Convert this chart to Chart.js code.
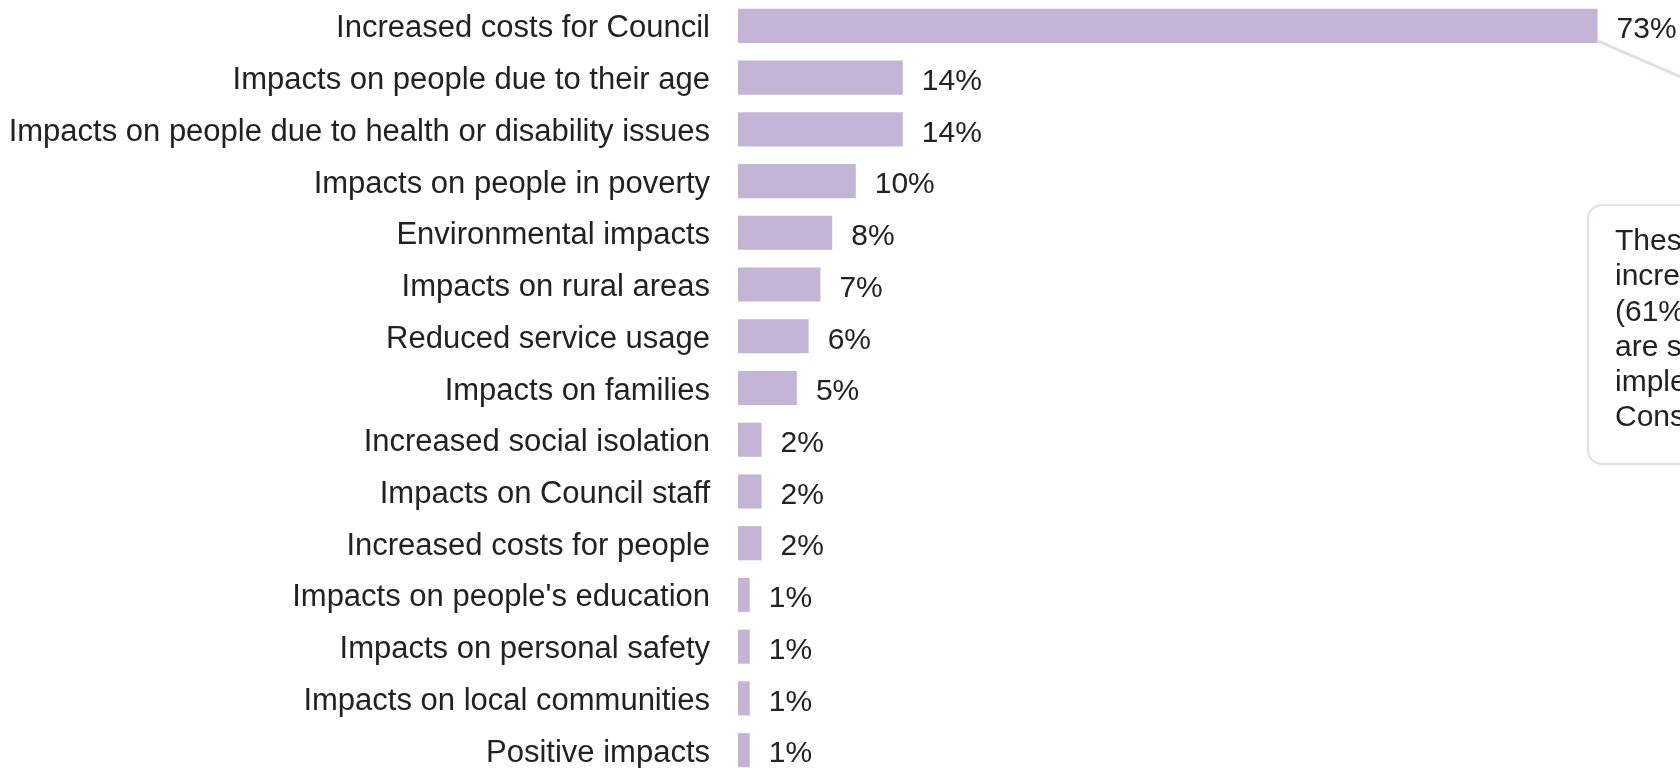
<!DOCTYPE html>
<html lang="en">
<head>
    <meta charset="UTF-8">
    <title>Impacts raised</title>
    <script src="https://cdn.jsdelivr.net/npm/chart.js"></script>
    <style>
        html, body {
            margin: 0;
            padding: 0;
            background: #fff;
            overflow: hidden;
        }
        .chart-wrap {
            position: relative;
            width: 1680px;
            height: 776px;
        }
    </style>
</head>
<body>
    <div class="chart-wrap">
        <canvas id="impactsChart"></canvas>
    </div>

    <script>
        const categories = [
            'Increased costs for Council',
            'Impacts on people due to their age',
            'Impacts on people due to health or disability issues',
            'Impacts on people in poverty',
            'Environmental impacts',
            'Impacts on rural areas',
            'Reduced service usage',
            'Impacts on families',
            'Increased social isolation',
            'Impacts on Council staff',
            'Increased costs for people',
            "Impacts on people's education",
            'Impacts on personal safety',
            'Impacts on local communities',
            'Positive impacts'
        ];
        const percentages = [73, 14, 14, 10, 8, 7, 6, 5, 2, 2, 2, 1, 1, 1, 1];

        const noteLines = ['These', 'increased', '(61%)', 'are similar', 'implemented', 'Consultation'];

        const textColor = '#222222';
        const barColor = '#c4b5d6';
        const noteColor = '#e2dcee';
        const fontFamily = '"Liberation Sans", Arial, sans-serif';

        // percentage next to the end of each bar
        const valueLabels = {
            id: 'valueLabels',
            afterDatasetsDraw(chart) {
                const ctx = chart.ctx;
                const meta = chart.getDatasetMeta(0);
                ctx.save();
                ctx.font = '30px ' + fontFamily;
                ctx.fillStyle = textColor;
                ctx.textAlign = 'left';
                ctx.textBaseline = 'middle';
                meta.data.forEach((bar, i) => {
                    ctx.fillText(percentages[i] + '%', bar.x + 19, bar.y + 4);
                });
                ctx.restore();
            }
        };

        // side note with a leader line from the top bar
        const sideNote = {
            id: 'sideNote',
            afterDraw(chart) {
                const ctx = chart.ctx;
                const top = chart.getDatasetMeta(0).data[0];
                const bottomEdge = top.y + top.height / 2;
                ctx.save();
                ctx.strokeStyle = noteColor;
                ctx.lineWidth = 3;
                ctx.beginPath();
                ctx.moveTo(top.x, bottomEdge - 2);
                ctx.lineTo(top.x + 120, bottomEdge - 2 + 52);
                ctx.stroke();

                const bx = 1588, by = 205, bw = 140, bh = 259, r = 14;
                ctx.lineWidth = 2;
                ctx.beginPath();
                ctx.roundRect(bx, by, bw, bh, r);
                ctx.stroke();

                ctx.font = '30px ' + fontFamily;
                ctx.fillStyle = textColor;
                ctx.textAlign = 'left';
                ctx.textBaseline = 'middle';
                noteLines.forEach((line, i) => {
                    ctx.fillText(line, 1615, 242 + i * 35.2);
                });
                ctx.restore();
            }
        };

        new Chart(document.getElementById('impactsChart'), {
            type: 'bar',
            data: {
                labels: categories,
                datasets: [{
                    data: percentages,
                    backgroundColor: barColor,
                    borderWidth: 0,
                    categoryPercentage: 1,
                    barPercentage: 0.66
                }]
            },
            options: {
                indexAxis: 'y',
                responsive: true,
                maintainAspectRatio: false,
                animation: false,
                layout: { padding: 0 },
                plugins: {
                    legend: { display: false },
                    tooltip: { enabled: false }
                },
                scales: {
                    x: {
                        display: false,
                        min: 0,
                        max: 80
                    },
                    y: {
                        grid: { display: false, drawTicks: false },
                        border: { display: false },
                        afterFit(scale) {
                            // fixed label column, no extra space above or below the rows
                            scale.width = 738;
                            scale.paddingTop = 0;
                            scale.paddingBottom = 0;
                        },
                        ticks: {
                            padding: 28,
                            labelOffset: 3,
                            color: textColor,
                            font: { family: fontFamily, size: 31 }
                        }
                    }
                }
            },
            plugins: [valueLabels, sideNote]
        });
    </script>
</body>
</html>
